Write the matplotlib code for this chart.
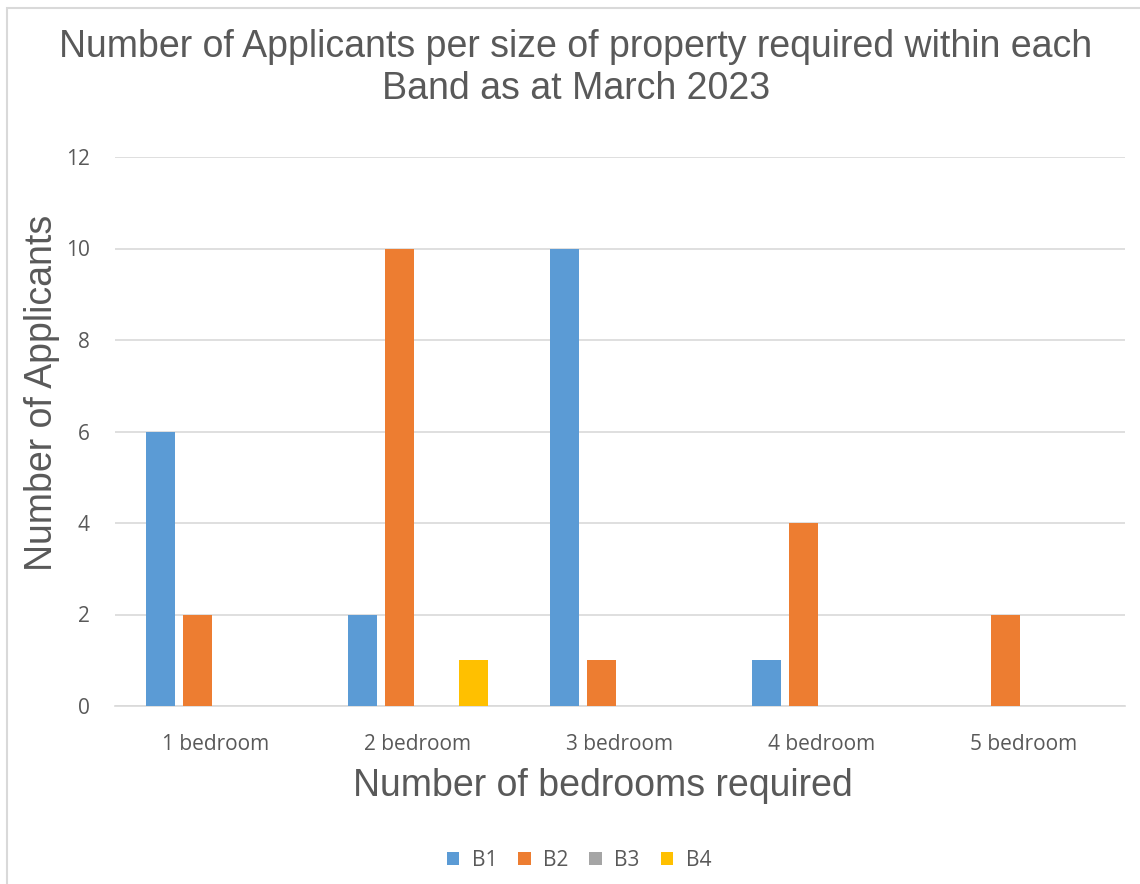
import matplotlib
matplotlib.use("Agg")
import matplotlib.pyplot as plt
import numpy as np
from matplotlib.patches import Rectangle

categories = ["1 bedroom", "2 bedroom", "3 bedroom", "4 bedroom", "5 bedroom"]
bands = ["B1", "B2", "B3", "B4"]
b1 = [6, 2, 10, 1, 0]
b2 = [2, 10, 1, 4, 2]
b3 = [0, 0, 0, 0, 0]
b4 = [0, 1, 0, 0, 0]
colors = ["#5B9BD5", "#ED7D31", "#A5A5A5", "#FFC000"]
yticks = [0, 2, 4, 6, 8, 10, 12]

txt = "#595959"
W, H = 1140, 884
fig = plt.figure(figsize=(11.4, 8.84), dpi=100)
ax = fig.add_axes([115 / W, 1 - 706 / H, 1010 / W, (706 - 157) / H])

# light border around the chart area
fig.patches.append(Rectangle((7 / W, -0.01), 1.02, 1 - 8 / H + 0.01,
                             transform=fig.transFigure, fill=False,
                             edgecolor="#D9D9D9", linewidth=1.5))

x = np.arange(len(categories))
width = 0.144
step = 0.183
for i, (vals, name) in enumerate(zip([b1, b2, b3, b4], bands)):
    ax.bar(x + (i - 1.5) * step, vals, width, color=colors[i], label=name, zorder=3)

ax.set_xlim(-0.5, 4.5)
ax.set_ylim(0, 12)
ax.set_yticks(yticks)
ax.set_xticks(x)
ax.set_xticklabels(categories)
ax.grid(axis="y", color="#D9D9D9", linewidth=1.2, zorder=0)
for s in ["top", "right", "left"]:
    ax.spines[s].set_visible(False)
ax.spines["bottom"].set_color("#D9D9D9")
ax.spines["bottom"].set_linewidth(1.2)
ax.tick_params(length=0, labelsize=15, labelcolor=txt)
ax.tick_params(axis="x", pad=20)
ax.tick_params(axis="y", pad=18)
for lab in ax.get_xticklabels() + ax.get_yticklabels():
    lab.set_family("Open Sans")

fig.text(603 / W, 1 - 786 / H, "Number of bedrooms required", fontsize=27, color=txt,
         family="Liberation Sans", ha="center", va="center")
fig.text(42 / W, 1 - 393 / H, "Number of Applicants", fontsize=27, color=txt,
         family="Liberation Sans", ha="center", va="center", rotation=90)
fig.text(0.505, 1 - 68 / H, "Number of Applicants per size of property required within each\nBand as at March 2023",
         ha="center", va="center", fontsize=27, color=txt, family="Liberation Sans",
         linespacing=1.2)

leg = fig.legend(loc="center", bbox_to_anchor=(579 / W, 1 - 860 / H), ncol=4,
                 frameon=False, handlelength=0.6, handleheight=0.6,
                 columnspacing=1.0, handletextpad=0.6,
                 prop={"family": "Open Sans", "size": 15})
for t in leg.get_texts():
    t.set_color(txt)

plt.savefig("out.png", dpi=100)
